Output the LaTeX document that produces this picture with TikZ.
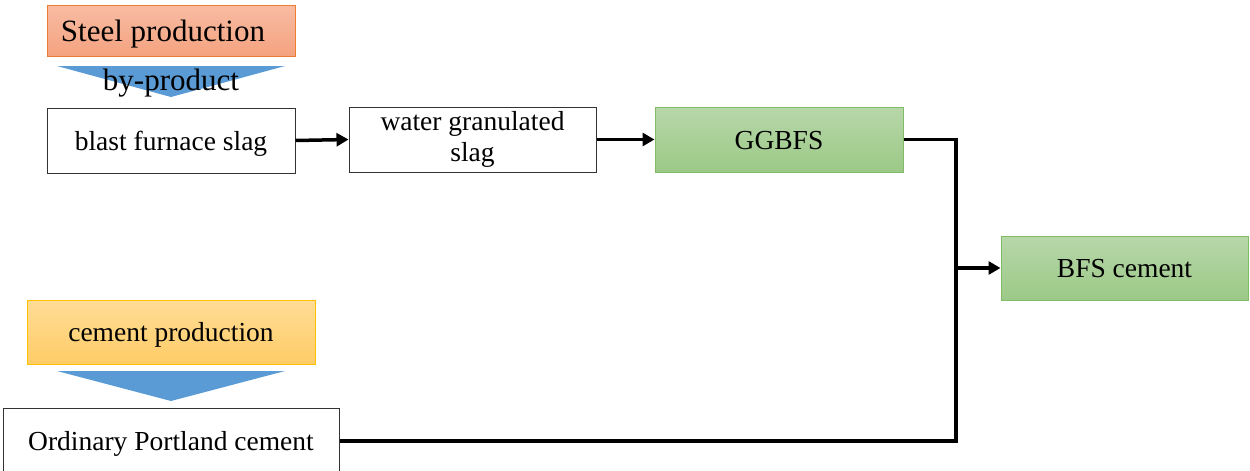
\documentclass[tikz,border=0pt]{standalone}
\usepackage{fontspec}
\setmainfont{Liberation Serif}
\usetikzlibrary{arrows.meta,shadings}
\definecolor{orngA}{HTML}{F8BCA3}
\definecolor{orngB}{HTML}{F4A27F}
\definecolor{orngE}{HTML}{ED7D31}
\definecolor{yelA}{HTML}{FFDC96}
\definecolor{yelB}{HTML}{FFCC66}
\definecolor{yelE}{HTML}{FFC000}
\definecolor{grnA}{HTML}{B7D7A9}
\definecolor{grnB}{HTML}{9CC987}
\definecolor{grnE}{HTML}{82BB67}
\definecolor{triblue}{HTML}{5B9BD5}
\tikzset{
  basebox/.style={draw=black!80, line width=1pt, fill=white, inner sep=0pt, align=center,
    font=\fontsize{27.5}{31}\selectfont},
  box/.style={basebox, text height=22pt, text depth=3pt},
  orangebox/.style={box, draw=orngE, top color=orngA, bottom color=orngB,
    text height=24pt, font=\fontsize{31}{34}\selectfont},
  yellowbox/.style={box, draw=yelE, top color=yelA, bottom color=yelB},
  greenbox/.style={box, draw=grnE, top color=grnA, bottom color=grnB},
  conn/.style={line width=3.5pt, -{Triangle[length=12pt,width=13pt]}},
  plain/.style={line width=3.5pt},
  tri/.style={fill=triblue, draw=none}
}
\begin{document}
\begin{tikzpicture}[x=1pt,y=-1pt]
\useasboundingbox (0,0) rectangle (1250,471);
\begin{scope}
\clip (0,0) rectangle (1250,471);
% top-left
\node[orangebox, minimum width=248pt, minimum height=51pt] (steel) at (171,30.5) {\hspace*{-16pt}Steel production};
\fill[tri] (57,66) -- (285,66) -- (171,97) -- cycle;
\node[inner sep=0pt, font=\fontsize{31}{34}\selectfont] (byp) at (171,83) {by-product};
\node[box, minimum width=248pt, minimum height=65pt] (bfslag) at (171,140.5) {blast furnace slag};
\node[basebox, minimum width=247pt, minimum height=65pt] (water) at (472.5,139.5)
  {\raisebox{-5.5pt}{\begin{tabular}{@{}c@{}}water granulated\\slag\end{tabular}}};
\node[greenbox, minimum width=248pt, minimum height=65pt] (ggbfs) at (779,139.5) {GGBFS};
\node[greenbox, minimum width=247pt, minimum height=64pt] (bfscem) at (1124.5,268) {BFS cement};
% bottom-left
\node[yellowbox, minimum width=288pt, minimum height=64pt] (cemprod) at (171,332) {cement production};
\fill[tri] (57,371) -- (285,371) -- (171,401) -- cycle;
\node[box, minimum width=336pt, minimum height=66pt] (opc) at (171,441) {Ordinary Portland cement};
% connectors
\coordinate (j) at (956,268);
\draw[conn] (bfslag.east) -- (water.west);
\draw[conn] (water.east) -- (ggbfs.west);
\draw[plain] (ggbfs.east) -| (j);
\draw[plain] (opc.east) -| (j);
\draw[conn] ([xshift=-1.75pt]j) -- (bfscem.west);
\end{scope}
\end{tikzpicture}
\end{document}
